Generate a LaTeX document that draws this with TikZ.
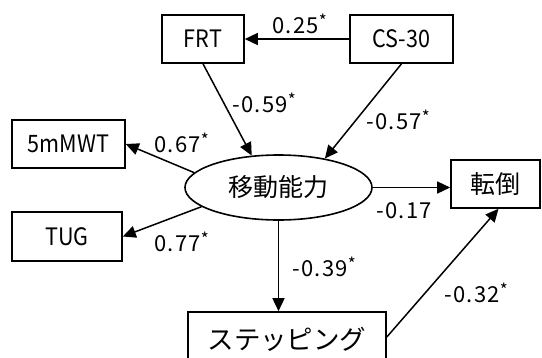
\documentclass[tikz,border=0pt]{standalone}
\usepackage{fontspec}
\setmainfont{Noto Sans CJK JP}
\newfontfamily\numfont[LetterSpace=6]{Noto Sans CJK JP}
\newfontfamily\latfont[FakeStretch=0.9]{Noto Sans CJK JP}
\usetikzlibrary{arrows.meta,shapes.geometric}
\newcommand{\sstar}{\raisebox{0.5ex}{\fontsize{17}{17}\selectfont *}}
\tikzset{
  box/.style={draw, line width=1.6pt, inner sep=0pt, minimum height=48pt, font=\latfont\fontsize{24}{28}\selectfont},
  jbox/.style={box, font=\fontsize{25}{28}\selectfont},
  lbl/.style={anchor=west, inner sep=0pt, font=\numfont\fontsize{22}{26}\selectfont},
  conn/.style={line width=1.5pt, -{Triangle[length=13pt,width=12pt]}},
}
\begin{document}
\begin{tikzpicture}[x=1pt,y=-1pt]
\clip (0,0) rectangle (542,357);
\fill[white] (0,0) rectangle (542,357);
\node[box, minimum width=82pt] (frt) at (203,39) {FRT};
\node[box, minimum width=103pt] (cs) at (401.5,39) {CS-30};
\node[box, minimum width=113pt] (mwt) at (68.5,144) {5mMWT};
\node[box, minimum width=110pt, minimum height=49pt] (tug) at (67,236.5) {TUG};
\node[jbox, minimum width=89pt] (tento) at (495.5,184) {転倒};
\node[jbox, minimum width=198pt, minimum height=50pt, font=\fontsize{26.5}{30}\selectfont, text depth=0pt] (step) at (287,337) {\raisebox{-3pt}{ステッピング}};
\node[draw, ellipse, line width=1.6pt, inner sep=0pt, minimum width=187pt, minimum height=65pt, font=\fontsize{25}{28}\selectfont] (m) at (278.5,187.5) {移動能力};

\draw[conn] (cs.west) -- (frt.east);
\draw[conn] (frt.south) -- (m.130);
\draw[conn] (cs.south) -- (m.32);
\draw[conn] (m.170) -- (mwt.east);
\draw[conn] (m.194) -- (tug.east);
\draw[conn] (m.east) -- (tento.west |- m.east);
\draw[conn] (m.south) -- (m.south |- step.north);
\draw[conn] (step.east) -- ([xshift=3pt]tento.south);

\node[lbl] (l1) at (272,24) {0.25\sstar};
\node[lbl] (l2) at (232,103) {-0.59\sstar};
\node[lbl] (l3) at (366,120) {-0.57\sstar};
\node[lbl] (l4) at (154,143) {0.67\sstar};
\node[lbl] (l5) at (154,242) {0.77\sstar};
\node[lbl] (l6) at (376,211) {-0.17};
\node[lbl] (l7) at (292,267) {-0.39\sstar};
\node[lbl] (l8) at (444,293) {-0.32\sstar};
\end{tikzpicture}
\end{document}
